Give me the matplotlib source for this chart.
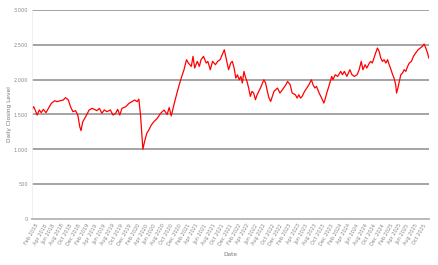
import matplotlib
matplotlib.use("Agg")
import matplotlib.pyplot as plt
import matplotlib.dates as mdates
import matplotlib.ticker as mticker
import pandas as pd

dates = [
    "2018-01-05", "2018-01-17", "2018-01-28", "2018-02-11", "2018-02-27", "2018-03-13",
    "2018-03-28", "2018-04-16", "2018-05-04", "2018-05-25", "2018-06-19", "2018-07-04",
    "2018-07-28", "2018-08-19", "2018-09-04", "2018-09-25", "2018-10-10", "2018-10-28",
    "2018-11-16", "2018-12-02", "2018-12-16", "2018-12-25", "2019-01-07", "2019-01-28",
    "2019-02-22", "2019-03-16", "2019-04-19", "2019-05-07", "2019-05-25", "2019-06-11",
    "2019-07-01", "2019-07-25", "2019-08-13", "2019-09-01", "2019-09-16", "2019-10-01",
    "2019-10-17", "2019-11-13", "2019-12-07", "2019-12-28", "2020-01-16", "2020-02-04",
    "2020-02-16", "2020-02-28", "2020-03-10", "2020-03-16", "2020-03-28", "2020-04-13",
    "2020-04-28", "2020-05-16", "2020-06-04", "2020-06-28", "2020-07-22", "2020-08-16",
    "2020-09-07", "2020-09-22", "2020-10-07", "2020-10-25", "2020-11-16", "2020-12-07",
    "2020-12-22", "2021-01-07", "2021-01-25", "2021-02-07", "2021-03-01", "2021-03-13",
    "2021-03-25", "2021-04-13", "2021-04-28", "2021-05-10", "2021-05-28", "2021-06-16",
    "2021-06-28", "2021-07-16", "2021-08-01", "2021-08-22", "2021-09-07", "2021-09-25",
    "2021-10-25", "2021-11-04", "2021-11-16", "2021-11-25", "2021-12-10", "2021-12-22",
    "2022-01-04", "2022-01-16", "2022-01-28", "2022-02-10", "2022-02-22", "2022-03-04",
    "2022-03-16", "2022-03-25", "2022-04-07", "2022-04-19", "2022-05-01", "2022-05-13",
    "2022-05-25", "2022-06-07", "2022-06-19", "2022-07-13", "2022-08-07", "2022-08-19",
    "2022-09-01", "2022-09-13", "2022-09-25", "2022-10-07", "2022-10-19", "2022-11-13",
    "2022-12-01", "2022-12-19", "2023-01-13", "2023-01-25", "2023-02-13", "2023-02-27",
    "2023-03-22", "2023-04-04", "2023-04-16", "2023-04-28", "2023-05-10", "2023-05-28",
    "2023-06-13", "2023-06-28", "2023-07-16", "2023-07-28", "2023-08-10", "2023-08-22",
    "2023-09-10", "2023-09-28", "2023-10-14", "2023-10-22", "2023-11-04", "2023-11-19",
    "2023-12-10", "2023-12-19", "2024-01-04", "2024-01-22", "2024-02-13", "2024-02-25",
    "2024-03-10", "2024-03-28", "2024-04-19", "2024-05-04", "2024-05-22", "2024-06-10",
    "2024-06-25", "2024-07-10", "2024-07-22", "2024-08-07", "2024-08-19", "2024-09-07",
    "2024-09-16", "2024-09-28", "2024-10-10", "2024-10-22", "2024-11-04", "2024-11-16",
    "2024-11-28", "2024-12-10", "2024-12-22", "2025-01-04", "2025-01-16", "2025-01-28",
    "2025-02-10", "2025-02-22", "2025-03-04", "2025-03-16", "2025-03-22", "2025-04-01",
    "2025-04-11", "2025-04-22", "2025-05-04", "2025-05-16", "2025-05-28", "2025-06-10",
    "2025-06-22", "2025-07-07", "2025-07-22", "2025-08-07", "2025-08-25", "2025-09-10",
    "2025-09-25", "2025-10-07", "2025-10-19", "2025-11-01", "2025-11-10",
]
closing = [
    1574, 1612, 1565, 1492, 1565, 1526,
    1574, 1526, 1588, 1660, 1698, 1684,
    1698, 1708, 1742, 1708, 1612, 1540,
    1555, 1492, 1325, 1268, 1397, 1469,
    1565, 1588, 1555, 1588, 1517, 1565,
    1540, 1565, 1492, 1517, 1574, 1492,
    1588, 1612, 1660, 1684, 1708, 1684,
    1720, 1492, 1182, 1000, 1110, 1229,
    1277, 1349, 1397, 1445, 1517, 1564,
    1500, 1600, 1480, 1630, 1800, 1950,
    2047, 2143, 2287, 2239, 2191, 2335,
    2167, 2263, 2191, 2287, 2335, 2239,
    2263, 2143, 2263, 2215, 2263, 2287,
    2430, 2335, 2215, 2143, 2239, 2263,
    2167, 2023, 2071, 1999, 2047, 1952,
    2119, 2047, 1975, 1880, 1760, 1832,
    1808, 1712, 1784, 1880, 1999, 1952,
    1832, 1736, 1688, 1760, 1832, 1880,
    1808, 1856, 1927, 1975, 1927, 1808,
    1784, 1736, 1784, 1736, 1760, 1832,
    1880, 1927, 1999, 1927, 1880, 1904,
    1808, 1736, 1664, 1712, 1808, 1904,
    2047, 1999, 2071, 2047, 2119, 2071,
    2119, 2047, 2143, 2071, 2047, 2071,
    2143, 2263, 2143, 2215, 2167, 2239,
    2263, 2239, 2311, 2383, 2455, 2407,
    2311, 2263, 2287, 2239, 2287, 2215,
    2143, 2071, 2023, 1927, 1808, 1880,
    1975, 2071, 2095, 2143, 2119, 2191,
    2239, 2263, 2335, 2383, 2431, 2455,
    2479, 2512, 2455, 2383, 2311,
]

x = pd.to_datetime(dates)

fig = plt.figure(figsize=(4.38, 2.65), dpi=100)
ax = fig.add_axes([0.073, 0.174, 0.906, 0.788])

ax.plot(x, closing, color="#ff0000", lw=0.9)

ax.set_ylim(0, 3000)
ax.set_xlim(x[0], x[-1])
ax.yaxis.set_major_locator(mticker.MultipleLocator(500))
ax.yaxis.set_major_formatter(mticker.StrMethodFormatter("{x:,.0f}"))
ax.xaxis.set_major_locator(mdates.MonthLocator(bymonth=[2, 4, 6, 8, 10, 12]))
ax.xaxis.set_major_formatter(mdates.DateFormatter("%b %Y"))

ax.grid(axis="y", color="#8c8c8c", lw=1.1)
ax.set_axisbelow(True)
for s in ["top", "right"]:
    ax.spines[s].set_visible(False)
ax.spines["left"].set_color("#eeeeee")
ax.spines["left"].set_linewidth(0.6)
ax.spines["bottom"].set_color("#bbbbbb")
ax.spines["bottom"].set_linewidth(1.4)

ax.tick_params(axis="both", length=0, labelsize=3.6, colors="#888888", pad=3)
for lbl in ax.get_xticklabels():
    lbl.set_rotation(60)
    lbl.set_ha("right")
    lbl.set_rotation_mode("anchor")

ax.set_xlabel("Date", fontsize=4.2, color="#777777", labelpad=4)
ax.set_ylabel("Daily Closing Level", fontsize=4.2, color="#777777")
ax.yaxis.set_label_coords(-0.05, 0.5)

fig.savefig("out.png", dpi=100)
